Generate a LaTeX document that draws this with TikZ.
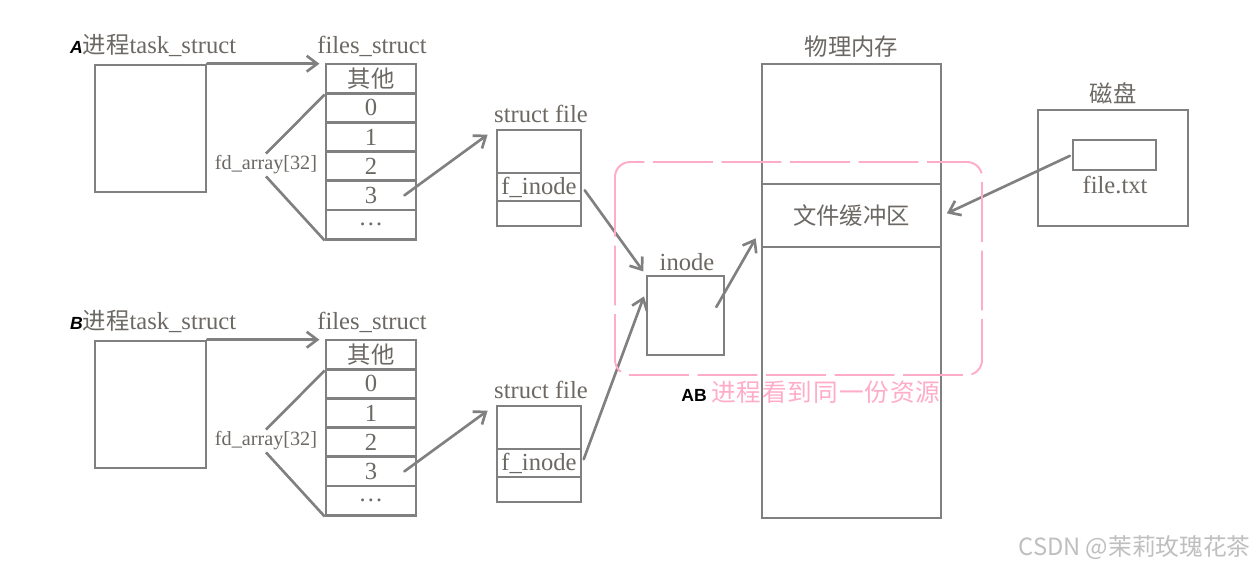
\documentclass[tikz,border=0pt]{standalone}
\usepackage{fontspec}
\setmainfont{Liberation Serif}
\newfontfamily\cjk{Noto Sans CJK SC}
\newfontfamily\sans{Liberation Sans}
\usepackage{xcolor}
\usetikzlibrary{arrows.meta,positioning}
\definecolor{lncol}{RGB}{128,128,128}
\definecolor{txcol}{RGB}{108,104,100}
\definecolor{pinkcol}{RGB}{255,172,200}
\newcommand\zh{\cjk\fontsize{13.3}{16}\selectfont}
\newcommand\pname[1]{{\sans\bfseries\itshape\fontsize{10}{12}\selectfont\color{black}#1}}
\tikzset{
  box/.style={rectangle,draw=lncol,line width=1.5pt,inner sep=0pt,text=txcol,font=\fontsize{14}{16}\selectfont},
  cell/.style={box,minimum width=1.8cm,minimum height=0.584cm},
  lbl/.style={text=txcol,inner sep=1pt,font=\fontsize{14}{16}\selectfont},
  ln/.style={draw=lncol,line width=1.5pt},
  ar/.style={draw=lncol,line width=1.5pt,line cap=round,-{Straight Barb[length=6pt,width=9pt]}},
}

\begin{document}
\begin{tikzpicture}[x=0.02cm,y=-0.02cm]
  \useasboundingbox[fill=white] (0,0) rectangle (1256,569);
  % physical memory, disk, inode
  \node[box,minimum width=3.58cm,minimum height=9.08cm] (mem) at (851.5,291) {};
  \node[box,minimum width=3.58cm,minimum height=1.26cm] (buf) at (851.5,215.5) {\zh 文件缓冲区};
  \node[lbl] (memlbl) at (851.5,47) {\zh 物理内存};
  \node[box,minimum width=3cm,minimum height=2.32cm] (disk) at (1113,168) {};
  \node[box,minimum width=1.66cm,minimum height=0.6cm] (txt) at (1114.5,155) {};
  \node[lbl,anchor=base] (txtlbl) at (1115,193) {file.txt};
  \node[lbl] (disklbl) at (1113,93) {\zh 磁盘};
  \node[box,minimum width=1.54cm,minimum height=1.58cm] (inode) at (685.5,315.5) {};
  \node[lbl,anchor=base] (inodelbl) at (687,270) {inode};
  % the two processes
  \foreach \p/\dy in {A/0,B/276}{
    \node[box,minimum width=2.22cm,minimum height=2.54cm] (t\p) at (150.5,128.5+\dy) {};
    \node[lbl,anchor=base west] (tl\p) at (68,53+\dy) {\pname{\p}{\zh 进程}task\_struct};
    \node[lbl,anchor=base] (fl\p) at (372,53+\dy) {files\_struct};
    \foreach \t [count=\i] in {{\zh 其他},0,1,2,3,\dots}
      \node[cell] (f\p\i) at (371,49.4+29.2*\i+\dy) {\t};
    \node[lbl,font=\fontsize{11.5}{13}\selectfont] (fd\p) at (266,165+\dy) {fd\_array[32]};
    \draw[ln] (fd\p.north) -- (f\p1.south west);
    \draw[ln] (fd\p.south) -- (f\p6.south west);
    \draw[ar,shorten >=3pt] (t\p.north east) -- (t\p.north east -| f\p1.west);
    \node[box,minimum width=1.68cm,minimum height=0.86cm] (s\p1) at (539,151.5+\dy) {};
    \node[box,minimum width=1.68cm,minimum height=0.56cm] (s\p2) at (539,187+\dy) {f\_inode};
    \node[box,minimum width=1.68cm,minimum height=0.5cm] (s\p3) at (539,213.5+\dy) {};
    \node[lbl,anchor=base] (sl\p) at (541,122+\dy) {struct file};
    \draw[ar,shorten >=0.2cm] ([xshift=-0.26cm]f\p5.east) -- (s\p1.north west);
  }
  \draw[ar,shorten <=0.08cm,shorten >=0.08cm] (sA2.east) -- (inode.north west);
  \draw[ar,shorten <=0.08cm,shorten >=0.1cm] (sB2.east) -- ([yshift=-0.34cm]inode.north west);
  \draw[ar] ([xshift=-0.18cm,yshift=0.17cm]inode.east) -- ([xshift=-0.1cm,yshift=0.2cm]buf.south west);
  \draw[ar,shorten <=0.04cm,shorten >=0.1cm] (txt.west) -- (buf.east);
  % shared region
  \draw[pinkcol,line width=1.1pt,dash pattern=on 34pt off 5pt,rounded corners=0.3cm] (615,162) rectangle (982,375);
  \node[anchor=base west,inner sep=0pt] (ab) at (681,401) {{\sans\bfseries\fontsize{10}{12}\selectfont AB} {\cjk\fontsize{14}{16}\selectfont\addfontfeatures{LetterSpace=4}\color{pinkcol}进程看到同一份资源}};
  \node[anchor=east,inner sep=0pt,text=black!25] (wm) at (1251,548) {\cjk\fontsize{13.5}{16}\selectfont CSDN @茉莉玫瑰花茶};
\end{tikzpicture}
\end{document}
